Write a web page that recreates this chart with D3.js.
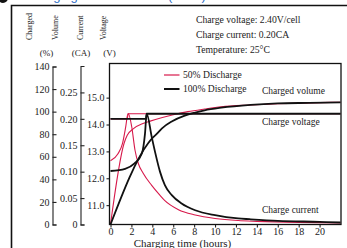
<!DOCTYPE html>
<html>
<head>
<meta charset="utf-8">
<script src="https://cdn.jsdelivr.net/npm/d3@7"></script>
<style>
  body { margin: 0; background: #fff; }
</style>
</head>
<body>
<div id="chart"></div>
<script>
// hours on x, three left axes: charged volume (%), current (CA), voltage (V)
const hourTicks = [0, 2, 4, 6, 8, 10, 12, 14, 16, 18, 20];
const volumeTicks = [0, 20, 40, 60, 80, 100, 120, 140];
const currentTicks = [0, 0.05, 0.1, 0.15, 0.2, 0.25];
const voltageTicks = [11, 12, 13, 14, 15];

const infoLines = ["Charge voltage: 2.40V/cell", "Charge current: 0.20CA", "Temperature: 25°C"];
const legendNames = ["50% Discharge", "100% Discharge"];

// 50% discharge (red)
const volume50 = [[0, 0], [1.3, 72], [1.6, 79], [2.2, 85], [3.1, 89.5], [3.8, 91.6], [4.3, 93], [5.9, 97], [7.4, 100], [9, 102.3], [10.6, 104.3], [13.4, 105.9], [16, 107], [19, 107.8], [22, 108.3]];
const voltage50 = [[0, 12.65], [0.7, 12.9], [1.15, 13.3], [1.45, 13.9], [1.67, 14.4], [22, 14.4]];
const current50 = [[0, 0.2], [1.6, 0.2], [1.7, 0.21], [2.03, 0.185], [2.34, 0.141], [2.66, 0.1155], [3.14, 0.0966], [3.94, 0.074], [4.74, 0.055], [5.2, 0.045], [6.5, 0.028], [8.1, 0.018], [10, 0.0114], [12.2, 0.0075], [14, 0.006], [18, 0.004], [22, 0.003]];

// 100% discharge (black)
const volume100 = [[0, 0], [3.6, 72], [4.0, 76.5], [4.4, 80], [4.9, 85], [5.9, 91.5], [7.1, 96.5], [8.1, 99.2], [9, 101.2], [10.6, 103.5], [13.4, 106], [16, 107.3], [19, 107.8], [22, 108.3]];
const voltage100 = [[0, 12.27], [1.4, 12.35], [2.3, 12.55], [3.0, 12.92], [3.3, 13.66], [3.46, 14.4], [22, 14.4]];
const current100 = [[0, 0.2], [3.4, 0.2], [3.46, 0.21], [3.94, 0.166], [4.26, 0.1375], [4.74, 0.0996], [5.2, 0.0744], [5.86, 0.0555], [6.8, 0.0398], [8.1, 0.027], [10, 0.0176], [12.2, 0.0114], [13.3, 0.01], [16, 0.007], [20, 0.005], [22, 0.0038]];

const width = 347;
const height = 248;
const red = "#d7194b";
const serif = "'Liberation Serif', 'Times New Roman', 'DejaVu Serif', serif";

const svg = d3.select("#chart").append("svg")
  .attr("width", width)
  .attr("height", height);

const plot = { left: 109.5, right: 341, top: 63.5, bottom: 224.5 };

const x = d3.scaleLinear().domain([0, 22]).range([110.5, 340.5]);
const yVolume = d3.scaleLinear().domain([0, 140]).range([224.5, 66.5]);
const yCurrent = d3.scaleLinear().domain([0, 0.3]).range([224.5, 66]);
const yVoltage = d3.scaleLinear().domain([10.28, 16.27]).range([224.5, 63.5]);

// title, mostly cut off at the top
svg.append("circle").attr("cx", 3).attr("cy", -2).attr("r", 5).attr("fill", "#111");
svg.append("text")
  .attr("class", "title")
  .attr("x", 25).attr("y", -0.5)
  .attr("fill", "#2f6dc4")
  .style("font-family", "'Liberation Sans', Arial, sans-serif")
  .style("font-size", "13px")
  .text("Charging characteristics (25°C)");

// outer frame (top and left edges)
svg.append("path")
  .attr("d", `M11.5,${height} V5.5 H${width}`)
  .attr("fill", "none")
  .attr("stroke", "#111")
  .attr("stroke-width", 1.6);

// rotated headers
const headers = [["Charged", 32.3], ["Volume", 57.7], ["Current", 82.7], ["Voltage", 105.7]];
headers.forEach(([label, hx]) => {
  svg.append("text")
    .attr("transform", `translate(${hx},40) rotate(-90)`)
    .style("font-size", "8px")
    .attr("fill", "#222")
    .text(label);
});
[["(%)", 46.5], ["(CA)", 81], ["(V)", 109.5]].forEach(([label, ux]) => {
  svg.append("text")
    .attr("x", ux).attr("y", 56)
    .attr("text-anchor", "middle")
    .style("font-size", "9px")
    .attr("fill", "#222")
    .text(label);
});

// info block
infoLines.forEach((line, i) => {
  svg.append("text")
    .attr("x", 196).attr("y", 22.5 + i * 15.3)
    .style("font-size", "9.7px")
    .attr("fill", "#222")
    .text(line);
});

// volume axis
const volumeAxis = svg.append("g")
  .attr("transform", "translate(52.5,0)")
  .call(d3.axisLeft(yVolume).tickValues(volumeTicks).tickSize(-4).tickPadding(3));
// current axis
const currentAxis = svg.append("g")
  .attr("transform", "translate(80.5,0)")
  .call(d3.axisLeft(yCurrent).tickValues(currentTicks).tickSize(-4).tickPadding(3)
    .tickFormat((d) => d === 0 ? "0" : d3.format(".2f")(d)));
// voltage axis on plot edge
const voltageAxis = svg.append("g")
  .attr("transform", `translate(${plot.left},0)`)
  .call(d3.axisLeft(yVoltage).tickValues(voltageTicks).tickSize(3).tickPadding(2)
    .tickFormat(d3.format(".1f")));
voltageAxis.select(".domain").remove();
// time axis
const timeAxis = svg.append("g")
  .attr("transform", `translate(0,${plot.bottom})`)
  .call(d3.axisBottom(x).tickValues(hourTicks).tickSize(3).tickPadding(0));
timeAxis.select(".domain").remove();

[volumeAxis, currentAxis, voltageAxis, timeAxis].forEach((g) => {
  g.attr("font-family", null).attr("font-size", null);
  g.selectAll("text").style("font-size", "10px").attr("fill", "#222");
  g.selectAll("line, path").attr("stroke", "#222").attr("stroke-width", 1.1);
});

svg.append("text")
  .attr("x", 182.5).attr("y", 246.5)
  .attr("text-anchor", "middle")
  .style("font-size", "11px")
  .attr("fill", "#222")
  .text("Charging time (hours)");

// curves
const line = (yScale) => d3.line()
  .x((d) => x(d[0]))
  .y((d) => yScale(d[1]))
  .curve(d3.curveMonotoneX);

const series = [
  { data: volume50, y: yVolume, color: red, w: 1.1 },
  { data: voltage50, y: yVoltage, color: red, w: 1.1 },
  { data: current50, y: yCurrent, color: red, w: 1.1 },
  { data: volume100, y: yVolume, color: "#111", w: 1.8 },
  { data: voltage100, y: yVoltage, color: "#111", w: 1.8 },
  { data: current100, y: yCurrent, color: "#111", w: 1.8 },
];
series.forEach((s) => {
  svg.append("path")
    .attr("d", line(s.y)(s.data))
    .attr("fill", "none")
    .attr("stroke", s.color)
    .attr("stroke-width", s.w);
});

// plot frame
svg.append("rect")
  .attr("x", plot.left).attr("y", plot.top)
  .attr("width", plot.right - plot.left)
  .attr("height", plot.bottom - plot.top)
  .attr("fill", "none")
  .attr("stroke", "#111")
  .attr("stroke-width", 1.3);

// legend
legendNames.forEach((name, i) => {
  const ly = 75 + i * 14;
  svg.append("line")
    .attr("x1", 164).attr("x2", 179.5)
    .attr("y1", ly).attr("y2", ly)
    .attr("stroke", i === 0 ? red : "#111")
    .attr("stroke-width", i === 0 ? 1.2 : 2);
  svg.append("text")
    .attr("x", 183).attr("y", ly + 3.4)
    .style("font-size", "9.6px")
    .attr("fill", "#222")
    .text(name);
});

// curve annotations
[["Charged volume", 94], ["Charge voltage", 125], ["Charge current", 212.5]].forEach(([label, ay]) => {
  svg.append("text")
    .attr("x", 262).attr("y", ay)
    .style("font-size", "9.5px")
    .attr("fill", "#222")
    .text(label);
});

// everything except the title is set in a serif face
svg.selectAll("text:not(.title)").style("font-family", serif);
</script>
</body>
</html>
